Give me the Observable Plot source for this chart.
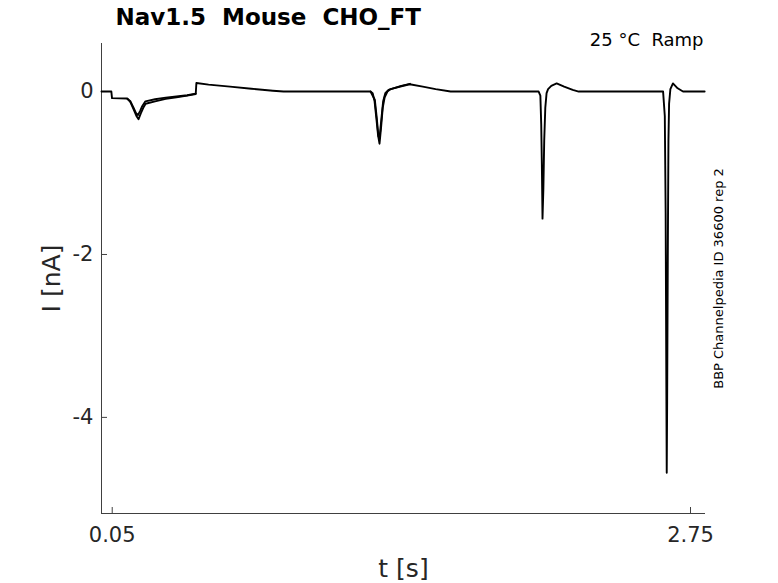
<!DOCTYPE html>
<html>
<head>
<meta charset="utf-8">
<script src="https://cdn.jsdelivr.net/npm/d3@7"></script>
<script src="https://cdn.jsdelivr.net/npm/@observablehq/plot@0.6"></script>
<style>
  html, body { margin: 0; padding: 0; background: #fff; }
  svg text { white-space: pre; }
</style>
</head>
<body>
<div id="chart"></div>
<script>
// ---- Data ----
const titleText = "Nav1.5  Mouse  CHO_FT";
const conditionText = "25 °C  Ramp";
const sourceText = "BBP Channelpedia ID 36600 rep 2";
const xLabel = "t [s]";
const yLabel = "I [nA]";

const xTicks = [0.05, 2.75];
const yTicks = [0, -2, -4];
const xDomain = [0, 2.82];
const yDomain = [-5.18, 0.59];

// Sweep 1 (full recording): time [s], current [nA]
const sweep1T = [0, 0.046, 0.049, 0.121, 0.135, 0.150, 0.163, 0.173, 0.183, 0.195, 0.206, 0.25, 0.30, 0.35, 0.40, 0.440, 0.443,
  0.50, 0.60, 0.70, 0.80, 0.85, 1.00, 1.256, 1.266, 1.275, 1.283, 1.291, 1.298, 1.305, 1.313, 1.322, 1.335, 1.35, 1.40, 1.439, 1.50, 1.56, 1.63,
  2.041, 2.049, 2.053, 2.056, 2.059, 2.063, 2.067, 2.072, 2.078, 2.085, 2.10, 2.125, 2.16, 2.20, 2.228,
  2.622, 2.630, 2.634, 2.637, 2.639, 2.641, 2.644, 2.647, 2.650, 2.656, 2.668, 2.69, 2.715, 2.816];
const sweep1I = [0, 0, -0.08, -0.085, -0.13, -0.22, -0.30, -0.34, -0.27, -0.20, -0.15, -0.12, -0.09, -0.07, -0.05, -0.03, 0.105,
  0.085, 0.06, 0.035, 0.01, 0.0, 0.0, 0.0, -0.02, -0.12, -0.32, -0.53, -0.64, -0.45, -0.20, -0.07, 0.0, 0.03, 0.065, 0.09, 0.06, 0.03, 0.0,
  0.0, -0.05, -0.4, -0.9, -1.56, -1.2, -0.6, -0.2, -0.02, 0.03, 0.07, 0.10, 0.06, 0.02, 0.0,
  0.0, -0.3, -1.5, -3.5, -4.68, -3.8, -2.0, -0.6, -0.15, 0.03, 0.10, 0.04, 0.0, 0.0];

// Repeat sweep, where it visibly differs: first ramp dip
const sweep2aT = [0.121, 0.135, 0.150, 0.162, 0.170, 0.180, 0.190, 0.205, 0.25, 0.30, 0.35, 0.40, 0.440];
const sweep2aI = [-0.09, -0.12, -0.20, -0.27, -0.29, -0.24, -0.18, -0.12, -0.095, -0.075, -0.06, -0.045, -0.025];
// Repeat sweep, second ramp dip
const sweep2bT = [1.256, 1.276, 1.285, 1.293, 1.300, 1.307, 1.315, 1.325, 1.34, 1.40, 1.44];
const sweep2bI = [0.0, -0.10, -0.32, -0.55, -0.52, -0.33, -0.12, -0.02, 0.02, 0.07, 0.095];

// ---- Build table for the library ----
const rows = [
  ...sweep1T.map((t, k) => ({seg: "s1", t, i: sweep1I[k]})),
  ...sweep2aT.map((t, k) => ({seg: "s2a", t, i: sweep2aI[k]})),
  ...sweep2bT.map((t, k) => ({seg: "s2b", t, i: sweep2bI[k]}))
];

const axisColor = "#404040";
const font = "DejaVu Sans";

const chart = Plot.plot({
  width: 778,
  height: 583,
  marginLeft: 101,
  marginRight: 73,
  marginTop: 43,
  marginBottom: 70,
  style: {fontFamily: font, fontSize: "21px", color: "#262626", background: "#fff"},
  x: {domain: xDomain},
  y: {domain: yDomain},
  marks: [
    Plot.ruleX([xDomain[0]], {stroke: axisColor, strokeWidth: 1}),
    Plot.ruleY([yDomain[0]], {stroke: axisColor, strokeWidth: 1}),
    Plot.axisX({ticks: xTicks, tickFormat: d => String(d), tickSize: -6, tickPadding: 20, stroke: axisColor, fontSize: 21, label: null}),
    Plot.axisY({ticks: yTicks, tickFormat: d => String(d), tickSize: -6, tickPadding: 14, stroke: axisColor, fontSize: 21, label: null}),
    Plot.line(rows, {x: "t", y: "i", z: "seg", stroke: "#000", strokeWidth: 1.9, curve: "linear"}),
    Plot.text([titleText], {frameAnchor: "top-left", dx: 14, dy: -26, text: d => d, textAnchor: "start", lineAnchor: "middle", fontSize: 23, fontWeight: "bold", fill: "#000"}),
    Plot.text([conditionText], {frameAnchor: "top-right", dx: -2, dy: -3, text: d => d, textAnchor: "end", lineAnchor: "middle", fontSize: 18, fill: "#000"}),
    Plot.text([sourceText], {frameAnchor: "right", dx: 13, text: d => d, rotate: -90, textAnchor: "middle", lineAnchor: "middle", fontSize: 13, fill: "#000"}),
    Plot.text([yLabel], {frameAnchor: "left", dx: -50, text: d => d, rotate: -90, textAnchor: "middle", lineAnchor: "middle", fontSize: 25, fill: "#262626"}),
    Plot.text([xLabel], {frameAnchor: "bottom", dy: 55, text: d => d, textAnchor: "middle", lineAnchor: "middle", fontSize: 25, fill: "#262626"})
  ]
});

document.getElementById("chart").appendChild(chart);
</script>
</body>
</html>
